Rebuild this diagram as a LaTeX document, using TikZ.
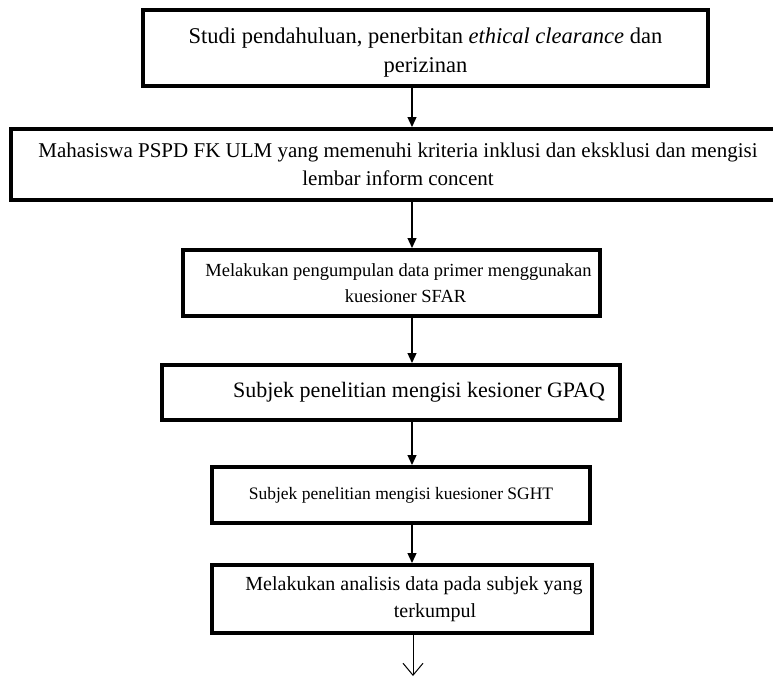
\documentclass[tikz,border=0pt]{standalone}
\usepackage{fontspec}
\setmainfont{Liberation Serif}
\usetikzlibrary{arrows.meta}
\tikzset{
  flowbox/.style={draw=black, line width=4pt, fill=white, align=center, inner sep=0pt},
  arr/.style={line width=1.3pt, -{Triangle[length=10pt,width=9pt]}},
  openarr/.style={line width=1pt, -{Straight Barb[length=12pt,width=20pt,line width=1pt]}}
}
\begin{document}
\begin{tikzpicture}[x=1pt,y=-1pt]
\useasboundingbox (0,0) rectangle (773,677);
\fill[white] (0,0) rectangle (773,677);
\node[flowbox, minimum width=565pt, minimum height=76pt, font=\fontsize{22.5}{29}\selectfont] (b1) at (425.5,48)
  {\rule{0pt}{24pt}Studi pendahuluan, penerbitan \textit{ethical clearance} dan\\perizinan};
\node[flowbox, minimum width=774pt, minimum height=71pt, font=\fontsize{21}{28}\selectfont] (b2) at (398,164.5)
  {Mahasiswa PSPD FK ULM yang memenuhi kriteria inklusi dan eksklusi dan mengisi\\lembar inform concent};
\node[flowbox, minimum width=417pt, minimum height=66pt, font=\fontsize{18.5}{26}\selectfont] (b3) at (391.5,283)
  {\hspace*{14pt}Melakukan pengumpulan data primer menggunakan\\\hspace*{28pt}kuesioner SFAR};
\node[flowbox, minimum width=458pt, minimum height=55pt, font=\fontsize{22}{26}\selectfont] (b4) at (391,392.5)
  {\hspace*{56pt}Subjek penelitian mengisi kesioner GPAQ};
\node[flowbox, minimum width=378pt, minimum height=56pt, font=\fontsize{17.5}{22}\selectfont] (b5) at (401,495)
  {Subjek penelitian mengisi kuesioner SGHT};
\node[flowbox, minimum width=380pt, minimum height=68pt, font=\fontsize{20}{27}\selectfont] (b6) at (402,599)
  {\hspace*{24pt}Melakukan analisis data pada subjek yang\\\hspace*{66pt}terkumpul};
\coordinate (ax) at (412,0);
\coordinate (endpt) at (413,676);
\draw[arr] (b1.south -| ax) -- (b2.north -| ax);
\draw[arr] (b2.south -| ax) -- (b3.north -| ax);
\draw[arr] (b3.south -| ax) -- (b4.north -| ax);
\draw[arr] (b4.south -| ax) -- (b5.north -| ax);
\draw[arr] (b5.south -| ax) -- (b6.north -| ax);
\draw[openarr] (b6.south -| endpt) -- (endpt);
\end{tikzpicture}
\end{document}
